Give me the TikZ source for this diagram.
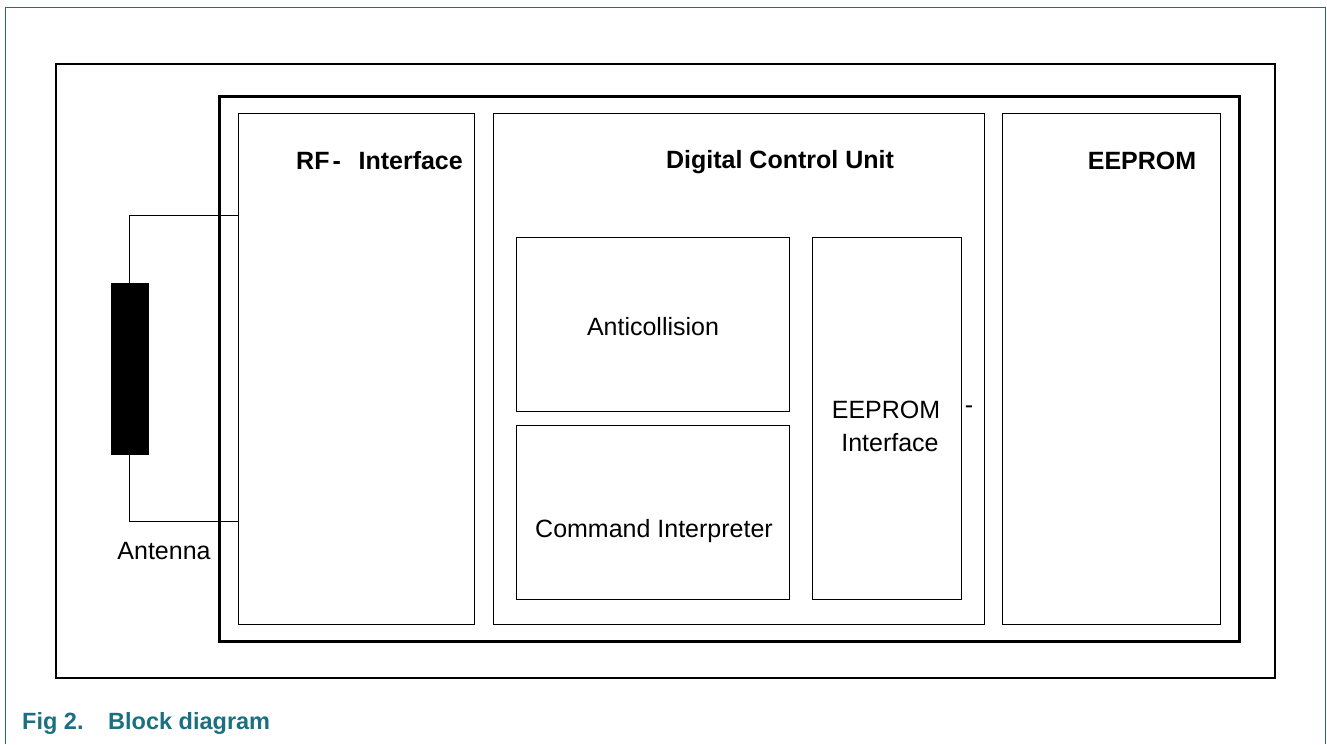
\documentclass[tikz,border=0pt]{standalone}
\usepackage{fontspec}
\setmainfont{Liberation Sans}
\definecolor{nxpteal}{HTML}{1B6F80}
\begin{document}
\begin{tikzpicture}[x=1pt,y=-1pt,
  thinbox/.style={draw,line width=1pt},
  lbl/.style={font=\fontsize{25}{28}\selectfont,inner sep=0pt},
  blbl/.style={font=\fontsize{25}{28}\selectfont\bfseries,inner sep=0pt},
  caplbl/.style={font=\fontsize{23.5}{26}\selectfont\bfseries,text=nxpteal,anchor=west,inner sep=0pt}]
\useasboundingbox (0,0) rectangle (1327,744);
% teal frame (open bottom)
\draw[nxpteal,line width=1pt] (5.5,744) -- (5.5,7) -- (1325,7) -- (1325,744);
% outer thin black frame
\draw[line width=1.3pt] (56,64) rectangle (1275,678);
% thick chip frame
\draw[line width=3pt] (219,96) rectangle (1239,641);
% blocks
\node[thinbox,minimum width=236pt,minimum height=511pt,inner sep=0pt,anchor=north west] (rf) at (238,113) {};
\node[thinbox,minimum width=491pt,minimum height=511pt,inner sep=0pt,anchor=north west] (dcu) at (493,113) {};
\node[thinbox,minimum width=218pt,minimum height=511pt,inner sep=0pt,anchor=north west] (ee) at (1002,113) {};
\node[thinbox,minimum width=273pt,minimum height=174pt,inner sep=0pt,anchor=north west] (ac) at (516,237) {};
\node[thinbox,minimum width=273pt,minimum height=174pt,inner sep=0pt,anchor=north west] (ci) at (516,425) {};
\node[thinbox,minimum width=149pt,minimum height=362pt,inner sep=0pt,anchor=north west] (ei) at (812,237) {};
% labels
\node[blbl,anchor=west] (rft) at (296,161) {RF\hspace{3pt}-};
\node[blbl,anchor=east] (rft2) at (463,161) {Interface};
\node[blbl] (dcut) at (780,162) {Digital Control Unit};
\node[blbl] (eet) at (1142,161) {EEPROM};
\node[lbl] (act) at (653,327) {Anticollision};
\node[lbl] (cit) at (654,531) {Command Interpreter};
\node[lbl] (eit1) at (886,410) {EEPROM};
\node[lbl] (eit2) at (890,443) {Interface};
\node[lbl] (dash) at (969,410) {-};
% antenna
\node[fill=black,draw=black,minimum width=37pt,minimum height=171pt,inner sep=0pt,anchor=north west] (ant) at (110.5,283) {};
\coordinate (t1) at (238,215);
\coordinate (t2) at (238,521);
\draw[line width=1pt] (ant.north) |- (t1);
\draw[line width=1pt] (ant.south) |- (t2);
\node[lbl] (antt) at (164,551) {Antenna};
% caption
\node[caplbl] (cap1) at (22,723) {Fig 2.};
\node[caplbl] (cap2) at (108,723) {Block diagram};
\end{tikzpicture}
\end{document}
